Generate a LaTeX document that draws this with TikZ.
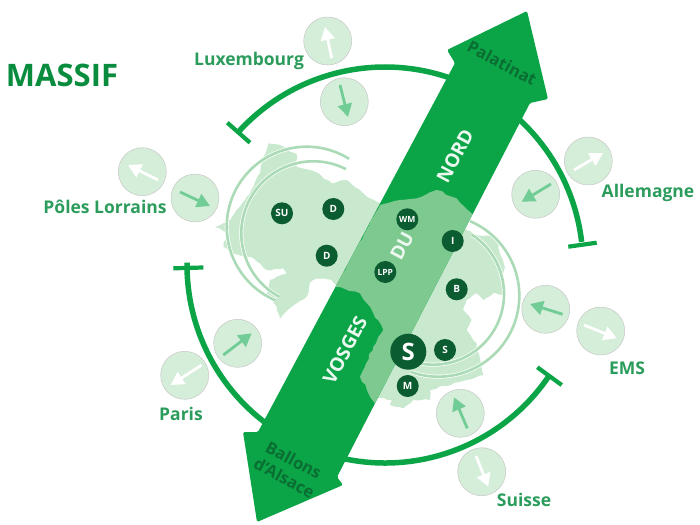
\documentclass[tikz,border=0pt]{standalone}
\usepackage{fontspec}
\setmainfont{Open Sans}
\usetikzlibrary{arrows.meta,decorations.pathmorphing}
\definecolor{bandgreen}{HTML}{0BA548}
\definecolor{midgreen}{HTML}{7DC98F}
\definecolor{mapgreen}{HTML}{C9E9CF}
\definecolor{ringgreen}{HTML}{ABDBB6}
\definecolor{roundgreen}{HTML}{D5EED9}
\definecolor{dotgreen}{HTML}{0B5C30}
\definecolor{namegreen}{HTML}{2B9C5C}
\definecolor{arrowgreen}{HTML}{71CC96}
\definecolor{headtext}{HTML}{0A6E32}
\tikzset{
	cropcoords/.style={shift={(200,130)},x=0.3333pt,y=-0.3333pt},
	mapfill/.style={fill=mapgreen,decorate,decoration={random steps,segment length=4pt,amplitude=0.8pt}},
	ringline/.style={draw=ringgreen,line width=2.6pt,preaction={draw=white,line width=4pt}},
	maparc/.style={draw=bandgreen,line width=5.5pt},
	tbar/.style={draw=bandgreen,line width=4.2pt},
	roundel/.style={circle,draw=black!22,fill=roundgreen,line width=0.5pt,minimum size=48pt,inner sep=0pt},
	greenarrow/.style={draw=arrowgreen,line width=2.8pt,-{Triangle[width=14pt,length=13pt]}},
	whitearrow/.style={draw=white,line width=2.8pt,-{Triangle[width=14pt,length=13pt]}},
	placename/.style={font=\bfseries\fontsize{17.5}{19}\selectfont,text=namegreen,inner sep=0pt},
	dot/.style={circle,fill=dotgreen,text=white,minimum size=22pt,inner sep=0pt,font=\bfseries\fontsize{10}{10}\selectfont},
	bandtext/.style={font=\bfseries\fontsize{19}{19}\selectfont,text=white!92!bandgreen,inner sep=0pt},
	headname/.style={font=\bfseries\fontsize{16.5}{20}\selectfont,text=headtext,inner sep=0pt,align=center}
}
\begin{document}
\begin{tikzpicture}[x=1pt,y=-1pt]
		\useasboundingbox (0,0) rectangle (700,524);
		
		%%%%% map, both halves %%%%%
		\begin{scope}[cropcoords]
			\fill[mapfill] (205,40) -- (240,45) -- (270,65) -- (290,72) -- (290,110) -- (345,125) -- (395,160) -- (440,150) -- (490,190) -- (510,205) -- (560,225) -- (425,480) -- (395,450) -- (350,445) -- (330,458) -- (320,500) -- (290,520) -- (270,535) -- (240,565) -- (230,530) -- (200,490) -- (210,450) -- (260,430) -- (250,415) -- (200,420) -- (160,385) -- (100,370) -- (70,350) -- (80,310) -- (45,290) -- (70,280) -- (90,270) -- (120,230) -- (150,190) -- (180,130) -- (185,100) -- cycle;
			\fill[mapfill] (780,290) -- (830,315) -- (890,320) -- (900,370) -- (915,410) -- (905,440) -- (910,495) -- (880,490) -- (850,510) -- (830,490) -- (800,510) -- (790,540) -- (815,570) -- (800,600) -- (830,640) -- (850,735) -- (800,750) -- (690,780) -- (690,810) -- (640,810) -- (610,835) -- (570,825) -- (575,810) -- (510,800) -- cycle;
		\end{scope}
		
		%%%%% rings %%%%%
		\draw[ringline] (306.7,226.7) ++(-58:80) arc (-58:-247:80);
		\draw[ringline] (313.3,233.3) ++(-63:72) arc (-63:-242:72);
		\draw[ringline] (438.3,295.7) ++(-67:81) arc (-67:110:81);
		\draw[ringline] (433.3,294) ++(-57:70.7) arc (-57:110:70.7);
		
		%%%%% big circle arcs and bars %%%%%
		\draw[maparc] (385,265) ++(222.3:198) arc (222.3:292:198);
		\draw[maparc] (385,265) ++(-52:198) arc (-52:-6.7:198);
		\draw[maparc] (385,265) ++(34.3:198) arc (34.3:106:198);
		\draw[maparc] (385,265) ++(180.7:198) arc (180.7:124:198);
		\draw[tbar] (227.3,122.7) -- (250,142.7);
		\draw[tbar] (568.3,246.7) -- (596.7,242.7);
		\draw[tbar] (537.3,367.3) -- (561.7,385);
		\draw[tbar] (173.3,268.3) -- (203.3,267.5);
		
		%%%%% band %%%%%
		\fill[bandgreen,rounded corners=1.5pt] (527,11) -- (548,99) -- (530,103) -- (337,477) -- (343,485) -- (257,522) -- (243,432) -- (258,432) -- (455,63) -- (447,50) -- cycle;
		\begin{scope}
			\clip (455,63) -- (530,103) -- (337,477) -- (258,432) -- cycle;
			\begin{scope}[cropcoords]
				\fill[midgreen,decorate,decoration={random steps,segment length=5pt,amplitude=1pt}] (540,225) -- (600,210) -- (650,205) -- (710,180) -- (770,205) -- (815,250) -- (830,300) -- (530,830) -- (480,740) -- (520,650) -- (550,600) -- (510,530) -- (480,490) -- (405,470) -- cycle;
			\end{scope}
		\end{scope}
		
		\node[bandtext,rotate=62] (nord) at (455,156) {NORD};
		\node[bandtext,rotate=62] (du) at (402,246) {DU};
		\node[bandtext,rotate=62] (vosges) at (345,350) {VOSGES};
		\node[headname,rotate=-28] (palatinat) at (502,63) {Palatinat};
		\node[headname,rotate=-28] (ballons) at (289,469) {Ballons\\d'Alsace};
		
		%%%%% towns %%%%%
		\node[dot] (su) at (282,213.3) {SU};
		\node[dot] (da) at (333.3,209) {D};
		\node[dot] (db) at (326.7,255.7) {D};
		\node[dot,font=\bfseries\fontsize{8.5}{8.5}\selectfont] (wm) at (407.3,219.3) {WM};
		\node[dot] (ia) at (452.7,241) {I};
		\node[dot,font=\bfseries\fontsize{8.5}{8.5}\selectfont] (lpp) at (385.3,272) {LPP};
		\node[dot] (ba) at (456.7,289.3) {B};
		\node[dot,minimum size=36pt,font=\bfseries\fontsize{24}{24}\selectfont] (bigs) at (408.3,351.7) {S};
		\node[dot] (sa) at (445,350) {S};
		\node[dot] (ma) at (407.7,386) {M};
		
		%%%%% roundels %%%%%
		\node[roundel] (luxw) at (327.7,41) {};
		\draw[whitearrow] (331.7,58) -- (325,27);
		\node[roundel] (luxg) at (344.3,101.7) {};
		\draw[greenarrow] (340,85) -- (348,117);
		\node[roundel] (polw) at (142.3,171.7) {};
		\draw[whitearrow] (158,180) -- (128,165);
		\node[roundel] (polg) at (195,198) {};
		\draw[greenarrow] (180,192) -- (210,206);
		\node[roundel] (allw) at (588.3,161) {};
		\draw[whitearrow] (574,170) -- (603,153);
		\node[roundel] (allg) at (535.7,194.3) {};
		\draw[greenarrow] (551,184) -- (521.7,201.7);
		\node[roundel] (emsg) at (545.7,309.3) {};
		\draw[greenarrow] (562.7,314.3) -- (530,304);
		\node[roundel] (emsw) at (600.7,331) {};
		\draw[whitearrow] (584,325) -- (616.7,338.3);
		\node[roundel] (suig) at (460.3,413.3) {};
		\draw[greenarrow] (467.3,428.3) -- (454,397.3);
		\node[roundel] (suiw) at (481.7,471.7) {};
		\draw[whitearrow] (476,456) -- (488.3,486.7);
		\node[roundel] (parg) at (237.7,343.3) {};
		\draw[greenarrow] (223.3,355) -- (251.7,333.3);
		\node[roundel] (parw) at (184.7,375.3) {};
		\draw[whitearrow] (201.7,365) -- (170.7,385);
		
		%%%%% names %%%%%
		\node[font=\bfseries\fontsize{31}{31}\selectfont,text=bandgreen!85!black,inner sep=0pt] (massif) at (62,75) {MASSIF};
		\node[placename] (luxembourg) at (249,61) {Luxembourg};
		\node[placename] (poles) at (105,207) {Pôles Lorrains};
		\node[placename] (allemagne) at (648,193) {Allemagne};
		\node[placename] (ems) at (627,368) {EMS};
		\node[placename] (suisse) at (524,500) {Suisse};
		\node[placename] (paris) at (181,414) {Paris};
	\end{tikzpicture}
\end{document}
